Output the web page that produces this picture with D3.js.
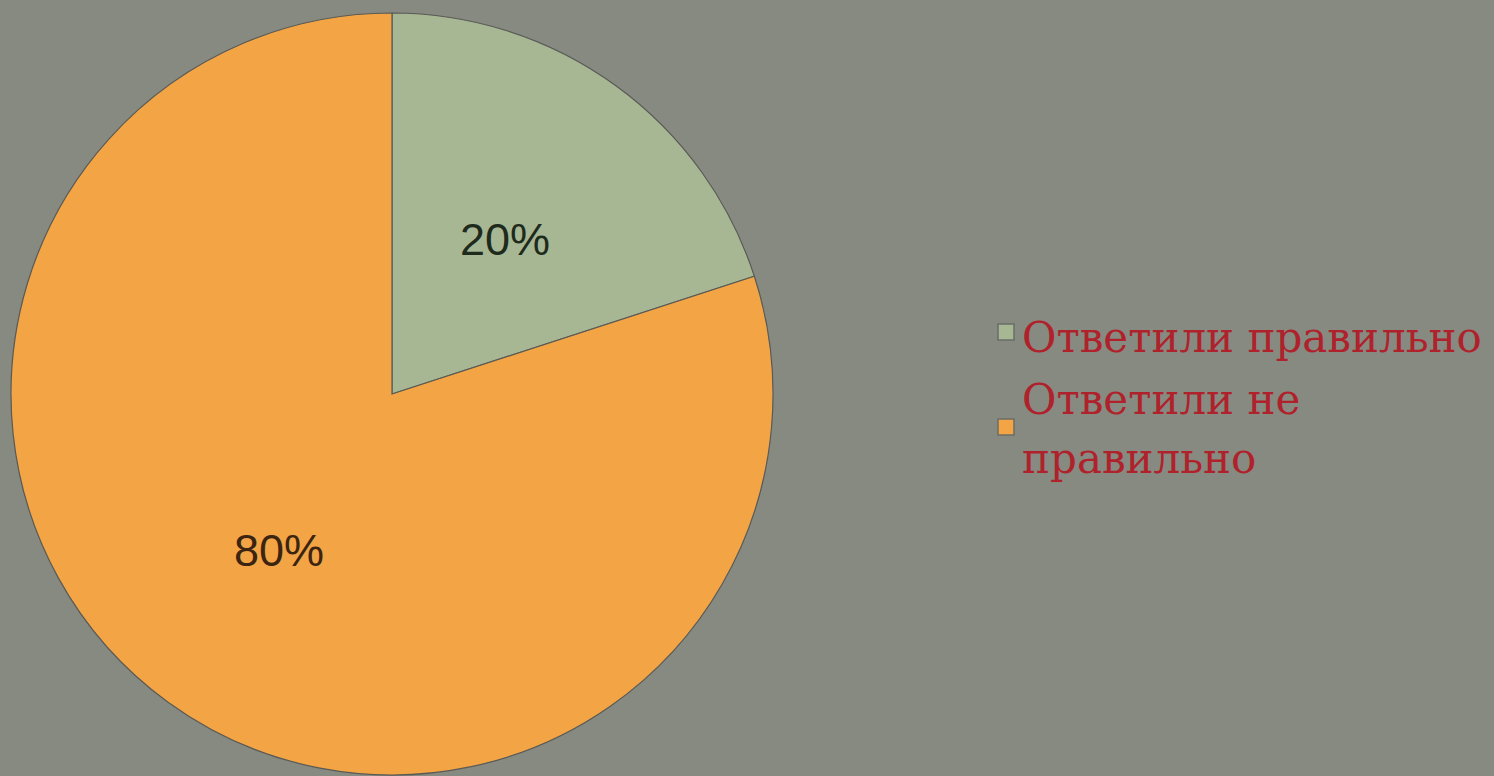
<!DOCTYPE html>
<html>
<head>
<meta charset="utf-8">
<script src="https://cdn.jsdelivr.net/npm/d3@7"></script>
<style>
  html, body { margin: 0; padding: 0; background: #878b82; overflow: hidden; }
</style>
</head>
<body>
<svg id="chart"></svg>
<script>
const categories = ['Ответили правильно', 'Ответили не правильно'];
const values = [20, 80];
const labels = ['20%', '80%'];
const legendLines = [['Ответили правильно'], ['Ответили не', 'правильно']];
const colors = ['#a7b794', '#f3a445'];
const labelColors = ['#1e2a1c', '#3b2411'];

const width = 1494;
const height = 776;
const cx = 392;
const cy = 394;
const radius = 381;

const svg = d3.select('#chart').attr('width', width).attr('height', height);

svg.append('rect').attr('width', width).attr('height', height).attr('fill', '#868a81');

const pie = d3.pie().sort(null).value((d) => d)(values);
const arc = d3.arc().innerRadius(0).outerRadius(radius);

const chart = svg.append('g').attr('transform', `translate(${cx},${cy})`);

chart
  .selectAll('path')
  .data(pie)
  .join('path')
  .attr('d', arc)
  .attr('fill', (d, i) => colors[i])
  .attr('stroke', '#5a5a55')
  .attr('stroke-width', 1.2);

const labelArc = d3.arc().innerRadius(radius * 0.505).outerRadius(radius * 0.505);
chart
  .selectAll('text.label')
  .data(pie)
  .join('text')
  .attr('class', 'label')
  .attr('transform', (d) => {
    const [x, y] = labelArc.centroid(d);
    return `translate(${x},${y})`;
  })
  .attr('text-anchor', 'middle')
  .attr('dy', '0.36em')
  .attr('font-family', '"Liberation Sans", Arial, sans-serif')
  .attr('font-size', 45)
  .attr('fill', (d, i) => labelColors[i])
  .text((d, i) => labels[i]);

// legend: swatch + wrapped serif text
const legend = svg.append('g').attr('transform', 'translate(998,0)');
const swatchY = [324, 419];
const baselines = [[352], [414, 473]];
legendLines.forEach((lines, i) => {
  legend
    .append('rect')
    .attr('x', 0)
    .attr('y', swatchY[i])
    .attr('width', 16)
    .attr('height', 16)
    .attr('fill', colors[i])
    .attr('stroke', '#6b6e66')
    .attr('stroke-width', 1.5);
  const text = legend
    .append('text')
    .attr('font-family', '"DejaVu Serif", "Liberation Serif", serif')
    .attr('font-size', 42)
    .attr('fill', '#b0222b');
  lines.forEach((line, j) => {
    text.append('tspan').attr('x', 24).attr('y', baselines[i][j]).text(line);
  });
});
</script>
</body>
</html>
